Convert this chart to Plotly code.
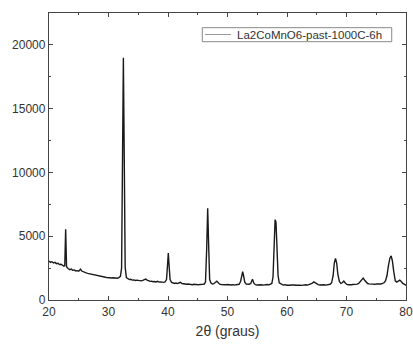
import plotly.graph_objects as go

two_theta = [
    20.0, 20.25, 20.5, 20.75, 21.0, 21.25, 21.5, 21.75, 22.0, 22.25, 22.5, 22.65, 22.8, 22.95,
    23.1, 23.25, 23.5, 23.75, 24.0, 24.25, 24.5, 24.75, 25.0, 25.3, 25.5, 25.75, 26.0, 26.25,
    26.5, 26.75, 27.0, 27.25, 27.5, 27.75, 28.0, 28.25, 28.5, 28.75, 29.0, 29.25, 29.5, 29.75,
    30.0, 30.25, 30.5, 30.75, 31.0, 31.25, 31.5, 31.75, 32.0, 32.2, 32.35, 32.5, 32.65, 32.8,
    33.0, 33.25, 33.5, 33.75, 34.0, 34.25, 34.5, 34.75, 35.0, 35.25, 35.5, 35.75, 36.0, 36.25,
    36.5, 36.75, 37.0, 37.25, 37.5, 37.75, 38.0, 38.25, 38.5, 38.75, 39.0, 39.25, 39.5, 39.75,
    39.9, 40.05, 40.2, 40.35, 40.6, 40.85, 41.1, 41.35, 41.6, 41.9, 42.1, 42.35, 42.6, 42.85,
    43.1, 43.35, 43.6, 43.85, 44.1, 44.35, 44.6, 44.85, 45.1, 45.35, 45.6, 45.85, 46.1, 46.3,
    46.5, 46.67, 46.85, 47.0, 47.2, 47.45, 47.7, 47.95, 48.2, 48.45, 48.7, 48.95, 49.2, 49.45,
    49.7, 49.95, 50.2, 50.45, 50.7, 50.95, 51.2, 51.45, 51.7, 51.95, 52.2, 52.4, 52.55, 52.7,
    52.9, 53.15, 53.4, 53.65, 53.9, 54.2, 54.45, 54.7, 54.95, 55.2, 55.45, 55.7, 55.95, 56.2,
    56.45, 56.7, 56.95, 57.2, 57.45, 57.65, 57.85, 58.0, 58.15, 58.3, 58.5, 58.7, 58.95, 59.2,
    59.45, 59.7, 59.95, 60.2, 60.45, 60.7, 60.95, 61.2, 61.45, 61.7, 61.95, 62.2, 62.45, 62.7,
    62.95, 63.2, 63.45, 63.7, 63.95, 64.2, 64.5, 64.75, 65.0, 65.25, 65.5, 65.75, 66.0, 66.25,
    66.5, 66.75, 67.0, 67.25, 67.5, 67.75, 67.95, 68.15, 68.35, 68.55, 68.8, 69.05, 69.3, 69.55,
    69.8, 70.05, 70.3, 70.55, 70.8, 71.05, 71.3, 71.55, 71.8, 72.05, 72.3, 72.55, 72.8, 73.05,
    73.3, 73.55, 73.8, 74.05, 74.3, 74.55, 74.8, 75.05, 75.3, 75.55, 75.8, 76.05, 76.3, 76.55,
    76.8, 77.05, 77.3, 77.5, 77.7, 77.95, 78.2, 78.45, 78.7, 78.95, 79.2, 79.45, 79.7, 79.95, 80.0,
]

intensity = [
    3050, 2950, 3000, 2900, 2950, 2850, 2880, 2780, 2800, 2700, 2650, 2700, 5550, 2600,
    2480, 2450, 2380, 2420, 2330, 2360, 2280, 2300, 2260, 2420, 2270, 2200, 2180, 2120,
    2090, 2060, 2020, 2000, 1960, 1950, 1920, 1880, 1870, 1840, 1820, 1790, 1780, 1760,
    1740, 1760, 1720, 1740, 1720, 1750, 1710, 1760, 1850, 2500, 12000, 19000, 11000, 2600,
    1750, 1640, 1600, 1620, 1560, 1580, 1530, 1560, 1520, 1540, 1500, 1540, 1600, 1640,
    1560, 1500, 1460, 1480, 1430, 1450, 1420, 1470, 1400, 1420, 1390, 1380, 1410, 1600,
    2600, 3680, 2600, 1600, 1380, 1320, 1300, 1330, 1290, 1350, 1380, 1290, 1260, 1280,
    1230, 1250, 1220, 1240, 1200, 1230, 1200, 1220, 1190, 1220, 1200, 1230, 1240, 1400,
    4000, 7200, 4000, 1600, 1350, 1260, 1280, 1380, 1480, 1350, 1240, 1220, 1200, 1230,
    1190, 1210, 1180, 1210, 1180, 1200, 1170, 1200, 1190, 1230, 1450, 2000, 2220, 1900,
    1400, 1250, 1220, 1230, 1300, 1620, 1300, 1200, 1180, 1200, 1170, 1190, 1170, 1200,
    1180, 1210, 1190, 1230, 1300, 1800, 4500, 6300, 6100, 4200, 1900, 1350, 1240, 1200,
    1180, 1200, 1160, 1190, 1160, 1180, 1150, 1180, 1160, 1180, 1150, 1170, 1150, 1180,
    1160, 1190, 1170, 1200, 1230, 1300, 1420, 1330, 1220, 1200, 1180, 1200, 1170, 1190,
    1170, 1200, 1190, 1230, 1350, 1900, 2900, 3250, 2900, 2000, 1450, 1300, 1350, 1480,
    1330, 1220, 1200, 1230, 1200, 1220, 1210, 1250, 1240, 1300, 1420, 1600, 1720, 1550,
    1380, 1290, 1260, 1240, 1220, 1250, 1230, 1260, 1240, 1270, 1260, 1300, 1350, 1500,
    1900, 2700, 3300, 3450, 3100, 2200, 1500, 1400, 1480, 1560, 1450, 1300, 1250, 1200, 1150,
]

series_name = "La2CoMnO6-past-1000C-6h"
x_title = "2θ (graus)"
x_ticks = [20, 30, 40, 50, 60, 70, 80]
y_ticks = [0, 5000, 10000, 15000, 20000]

FONT = "Liberation Sans, Arial"

fig = go.Figure()
fig.add_trace(go.Scatter(
    x=two_theta, y=intensity, mode="lines", name=series_name,
    line=dict(color="#1a1a1a", width=1.4),
    showlegend=False,
))

# compact legend box (as in the reference), drawn in paper coordinates
fig.add_shape(type="rect", xref="paper", yref="paper",
              x0=0.4294, x1=0.960, y0=0.900, y1=0.9488,
              line=dict(color="#888", width=1), fillcolor="white", layer="above")
fig.add_shape(type="line", xref="paper", yref="paper",
              x0=0.437, x1=0.510, y0=0.925, y1=0.925,
              line=dict(color="#999", width=1), layer="above")
fig.add_annotation(xref="paper", yref="paper", x=0.522, y=0.925,
                   xanchor="left", yanchor="middle", showarrow=False,
                   text=series_name,
                   font=dict(family=FONT, size=11.5, color="#333"))

axis_common = dict(
    showgrid=False, zeroline=False, showline=True, mirror="ticks",
    linecolor="#444", linewidth=1.3, ticks="inside", ticklen=4,
    tickcolor="#444", tickwidth=1, automargin=False,
    tickfont=dict(family=FONT, size=12, color="#333"),
)

fig.update_layout(
    width=413, height=345,
    margin=dict(l=49, r=7, t=13, b=45),
    paper_bgcolor="white", plot_bgcolor="white",
    showlegend=False,
    xaxis=dict(
        range=[20, 80], tickvals=x_ticks,
        minor=dict(ticks="inside", ticklen=2, dtick=5, tickcolor="#444"),
        title=dict(text=x_title, font=dict(family=FONT, size=14, color="#333"), standoff=8),
        **axis_common,
    ),
    yaxis=dict(
        range=[0, 22500], tickvals=y_ticks, tickformat="d",
        minor=dict(ticks="inside", ticklen=2, dtick=2500, tickcolor="#444"),
        **axis_common,
    ),
)

fig.write_html(
    "out.html",
    config={"displayModeBar": False},
    post_script="document.body.style.margin='0';document.body.style.overflow='hidden';",
)
